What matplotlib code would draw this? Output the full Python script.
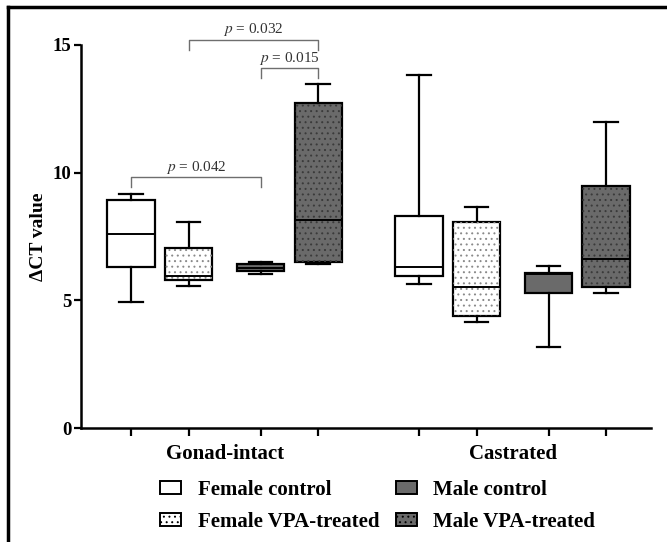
import numpy as np
import matplotlib
matplotlib.use("Agg")
import matplotlib.pyplot as plt
from matplotlib.patches import Patch, PathPatch
from matplotlib.lines import Line2D

plt.rcParams['font.family'] = ['Liberation Serif', 'DejaVu Serif']
plt.rcParams['mathtext.fontset'] = 'stix'
plt.rcParams['hatch.linewidth'] = 0.7

# data (min, q1, median, q3, max)
groups = ['Gonad-intact', 'Castrated']
series = ['Female control', 'Female VPA-treated', 'Male control', 'Male VPA-treated']
whislo = [4.92, 5.58, 6.04, 6.42, 5.65, 4.15, 3.19, 5.30]
q1 = [6.31, 5.78, 6.15, 6.49, 5.95, 4.39, 5.27, 5.54]
med = [7.59, 5.97, 6.28, 8.16, 6.31, 5.54, 6.03, 6.62]
q3 = [8.92, 7.05, 6.42, 12.73, 8.32, 8.07, 6.08, 9.46]
whishi = [9.16, 8.07, 6.51, 13.47, 13.81, 8.65, 6.35, 12.00]

# significance brackets: (left box, right box, bar y, p text)
brackets = [(0, 2, 9.82, '0.042'), (1, 3, 15.2, '0.032'), (2, 3, 14.09, '0.015')]

positions = [0, 1, 2.25, 3.25, 5, 6, 7.25, 8.25]
fills = ['white', 'white', '#6a6a6a', '#6a6a6a']
dots = [None, '#8a8a8a', None, '#3a3a3a']

fig = plt.figure(figsize=(6.67, 5.42), dpi=100)
ax = fig.add_axes([0.1214, 0.2103, 0.8546, 0.7067])

stats = []
for i in range(len(med)):
    stats.append(dict(whislo=whislo[i], q1=q1[i], med=med[i], q3=q3[i],
                      whishi=whishi[i], fliers=[]))

bp = ax.bxp(stats, positions=positions, widths=0.82, patch_artist=True,
            showfliers=False, manage_ticks=False,
            boxprops=dict(linewidth=1.6, edgecolor='black'),
            medianprops=dict(color='black', linewidth=1.4, zorder=5),
            whiskerprops=dict(color='black', linewidth=1.6),
            capprops=dict(color='black', linewidth=1.6))

for i, box in enumerate(bp['boxes']):
    k = i % 4
    box.set_facecolor(fills[k])
    if dots[k] is not None:
        ax.add_patch(PathPatch(box.get_path(), facecolor='none', edgecolor=dots[k],
                               hatch='...', linewidth=0, zorder=box.get_zorder() + 0.1))

ax.set_ylim(0, 15)
ax.set_xlim(-0.87, 9.03)
ax.set_yticks([0, 5, 10, 15])
ax.set_yticklabels(['0', '5', '10', '15'], fontsize=13.5, fontweight='bold')
ax.set_xticks(positions)
ax.set_xticklabels([])
ax.tick_params(axis='x', direction='out', length=6, width=1.6)
ax.tick_params(axis='y', direction='out', length=5, width=1.6, pad=2)
for s in ['top', 'right']:
    ax.spines[s].set_visible(False)
for s in ['left', 'bottom']:
    ax.spines[s].set_linewidth(1.8)
ax.set_ylabel('ΔCT value', fontsize=14, fontweight='bold', labelpad=4)

for g, name in enumerate(groups):
    xc = np.mean(positions[g * 4:g * 4 + 4])
    ax.text(xc, -1.0, name, ha='center', va='center', fontsize=15,
            fontweight='bold')

for a, b, y, ptxt in brackets:
    xa, xb = positions[a], positions[b]
    ax.plot([xa, xa, xb, xb], [y - 0.38, y, y, y - 0.38], color='#6e6e6e',
            linewidth=1.0, clip_on=False)
    ax.text((xa + xb) / 2, y + 0.4, r'$p$ = ' + ptxt, ha='center', va='center',
            fontsize=11, color='#333333')

handles = []
for k, name in enumerate(series):
    handles.append(Patch(facecolor=fills[k], edgecolor='black', linewidth=1.4,
                         hatch='...' if dots[k] else None, label=name))
fig.legend(handles=handles, ncol=2, loc='upper left', bbox_to_anchor=(0.24, 0.115),
           frameon=False, prop=dict(size=15, weight='bold'), handlelength=1.0,
           handleheight=0.6, handletextpad=0.8, columnspacing=0.8,
           labelspacing=0.6, borderaxespad=0, borderpad=0)

# cropped frame from the source figure (left and top edges)
fig.add_artist(Line2D([0.012, 0.012], [0, 0.988], color='black', linewidth=2.5,
                      transform=fig.transFigure))
fig.add_artist(Line2D([0.012, 1], [0.988, 0.988], color='black', linewidth=2.5,
                      transform=fig.transFigure))

fig.savefig('out.png', dpi=100)
